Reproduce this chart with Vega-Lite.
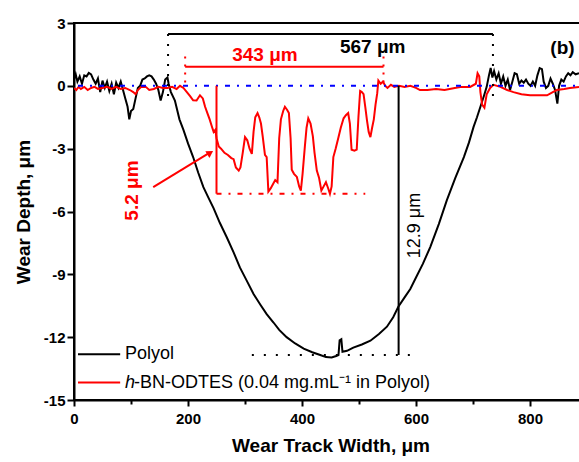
{
  "$schema": "https://vega.github.io/schema/vega-lite/v6.json",
  "width": 513,
  "height": 377,
  "autosize": "none",
  "padding": {"left": 74, "top": 23, "right": 0, "bottom": 62},
  "background": "white",
  "config": {
    "view": {"stroke": "black", "strokeWidth": 2},
    "font": "Liberation Sans",
    "axis": {
      "domainColor": "black", "domainWidth": 2,
      "tickColor": "black", "tickWidth": 2,
      "labelColor": "black", "labelFont": "Liberation Sans", "labelFontWeight": "bold", "labelFontSize": 15,
      "titleColor": "black", "titleFont": "Liberation Sans", "titleFontWeight": "bold", "titleFontSize": 19,
      "grid": false
    }
  },
  "datasets": {
    "polyol": [
      {"x":0,"y":0.3},{"x":3,"y":0.55},{"x":6,"y":0.2},{"x":10,"y":0.45},{"x":14,"y":0.1},{"x":18,"y":0.5},{"x":22,"y":0.45},{"x":26,"y":0.62},{"x":30,"y":0.55},{"x":34,"y":0.3},{"x":38,"y":0.1},{"x":42,"y":0.35},{"x":46,"y":-0.3},{"x":50,"y":0.25},{"x":54,"y":-0.1},{"x":58,"y":0.2},{"x":62,"y":-0.25},{"x":66,"y":0.1},{"x":70,"y":-0.4},{"x":74,"y":0.15},{"x":78,"y":-0.1},{"x":82,"y":0.2},{"x":86,"y":-0.2},{"x":90,"y":-0.6},{"x":94,"y":-1.0},{"x":97,"y":-1.6},{"x":100,"y":-1.2},{"x":104,"y":-1.1},{"x":108,"y":-0.6},{"x":112,"y":-0.1},{"x":116,"y":0.0},{"x":120,"y":0.3},{"x":124,"y":0.35},{"x":128,"y":0.45},{"x":132,"y":0.5},{"x":136,"y":0.45},{"x":140,"y":0.3},{"x":144,"y":0.1},{"x":148,"y":-0.2},{"x":152,"y":-0.7},{"x":156,"y":-0.3},{"x":160,"y":0.3},{"x":164,"y":0.4},{"x":166,"y":0.1},
      {"x":170,"y":-0.3},{"x":177,"y":-0.7},{"x":185,"y":-1.6},{"x":192,"y":-2.1},{"x":200,"y":-2.75},{"x":209,"y":-3.4},{"x":218,"y":-4.15},{"x":227,"y":-4.84},{"x":236,"y":-5.35},{"x":245,"y":-5.85},{"x":256,"y":-6.55},{"x":268,"y":-7.23},{"x":280,"y":-7.95},{"x":291,"y":-8.67},{"x":303,"y":-9.3},{"x":315,"y":-9.94},{"x":327,"y":-10.45},{"x":338,"y":-10.9},{"x":350,"y":-11.3},{"x":360,"y":-11.65},{"x":373,"y":-12.0},{"x":388,"y":-12.3},{"x":403,"y":-12.55},{"x":418,"y":-12.72},{"x":432,"y":-12.85},{"x":442,"y":-12.95},{"x":452,"y":-12.97},{"x":460,"y":-12.9},{"x":464,"y":-12.85},{"x":466,"y":-12.15},{"x":469,"y":-12.1},{"x":471,"y":-12.7},{"x":479,"y":-12.65},{"x":490,"y":-12.5},{"x":505,"y":-12.35},{"x":520,"y":-12.17},{"x":535,"y":-11.85},{"x":549,"y":-11.5},{"x":560,"y":-11.05},{"x":569,"y":-10.55},{"x":580,"y":-10.1},{"x":590,"y":-9.7},{"x":600,"y":-9.15},{"x":612,"y":-8.5},{"x":625,"y":-7.7},{"x":640,"y":-6.6},{"x":654,"y":-5.47},{"x":669,"y":-4.4},{"x":684,"y":-3.4},{"x":693,"y":-2.7},{"x":701,"y":-1.96},{"x":707,"y":-1.5},{"x":713,"y":-1.0},{"x":719,"y":-0.5},{"x":724,"y":-0.05},{"x":728,"y":0.5},{"x":731,"y":0.85},{"x":734,"y":0.4},
      {"x":737,"y":0.7},{"x":741,"y":0.3},{"x":745,"y":0.6},{"x":749,"y":0.1},{"x":753,"y":0.45},{"x":757,"y":0.0},{"x":761,"y":0.3},{"x":765,"y":-0.2},{"x":769,"y":0.2},{"x":773,"y":0.6},{"x":777,"y":0.55},{"x":781,"y":0.1},{"x":785,"y":0.25},{"x":789,"y":0.15},{"x":793,"y":0.3},{"x":797,"y":0.1},{"x":801,"y":0.0},{"x":805,"y":0.2},{"x":809,"y":0.0},{"x":813,"y":0.5},{"x":817,"y":0.85},{"x":821,"y":0.8},{"x":824,"y":0.2},{"x":828,"y":-0.1},{"x":832,"y":0.0},{"x":836,"y":0.35},{"x":840,"y":0.1},{"x":844,"y":-0.2},{"x":848,"y":-0.85},{"x":851,"y":0.0},{"x":855,"y":0.3},{"x":859,"y":0.2},{"x":863,"y":0.45},{"x":867,"y":0.6},{"x":871,"y":0.5},{"x":875,"y":0.65},{"x":880,"y":0.55},{"x":886,"y":0.6}
    ],
    "hbn": [
      {"x":0,"y":-0.1},{"x":4,"y":-0.2},{"x":8,"y":-0.05},{"x":12,"y":-0.15},{"x":18,"y":-0.05},{"x":24,"y":-0.2},{"x":30,"y":-0.1},{"x":36,"y":-0.05},{"x":42,"y":-0.15},{"x":50,"y":-0.1},{"x":58,"y":-0.05},{"x":66,"y":-0.15},{"x":74,"y":-0.05},{"x":82,"y":-0.15},{"x":90,"y":-0.1},{"x":98,"y":-0.2},{"x":104,"y":-0.3},{"x":108,"y":-0.4},{"x":112,"y":-0.2},{"x":118,"y":-0.05},{"x":126,"y":-0.05},{"x":132,"y":-0.2},{"x":140,"y":-0.15},{"x":148,"y":-0.05},{"x":156,"y":-0.1},{"x":164,"y":-0.1},{"x":172,"y":-0.05},{"x":180,"y":-0.15},{"x":186,"y":0.0},{"x":192,"y":-0.1},{"x":198,"y":-0.3},{"x":204,"y":-0.5},{"x":209,"y":-0.69},{"x":215,"y":-0.7},{"x":221,"y":-0.45},{"x":226,"y":-0.6},{"x":230,"y":-1.0},{"x":234,"y":-1.3},{"x":238,"y":-1.6},{"x":242,"y":-1.95},{"x":245,"y":-2.2},{"x":248,"y":-2.1},
      {"x":250,"y":-2.5},{"x":254,"y":-2.9},{"x":258,"y":-3.0},{"x":264,"y":-3.2},{"x":270,"y":-3.3},{"x":276,"y":-3.45},{"x":280,"y":-3.5},{"x":284,"y":-3.9},{"x":289,"y":-4.05},{"x":292,"y":-3.9},{"x":296,"y":-3.2},{"x":300,"y":-2.45},{"x":304,"y":-2.6},{"x":308,"y":-3.0},{"x":312,"y":-3.25},{"x":315,"y":-2.2},{"x":318,"y":-1.5},{"x":322,"y":-1.3},{"x":325,"y":-1.5},{"x":328,"y":-1.8},{"x":331,"y":-2.4},{"x":335,"y":-3.3},{"x":338,"y":-3.4},{"x":341,"y":-5.05},{"x":345,"y":-4.9},{"x":349,"y":-4.7},{"x":353,"y":-4.5},{"x":357,"y":-4.6},{"x":360,"y":-2.5},{"x":363,"y":-1.6},{"x":367,"y":-1.2},{"x":370,"y":-1.0},{"x":374,"y":-1.15},{"x":377,"y":-1.3},{"x":380,"y":-2.5},{"x":382,"y":-4.0},{"x":386,"y":-4.2},{"x":391,"y":-4.35},{"x":395,"y":-4.8},{"x":398,"y":-5.0},{"x":401,"y":-4.2},{"x":405,"y":-2.9},{"x":408,"y":-2.0},{"x":411,"y":-1.55},{"x":415,"y":-1.8},{"x":419,"y":-2.4},{"x":422,"y":-3.2},{"x":426,"y":-4.05},{"x":430,"y":-4.4},{"x":434,"y":-5.0},{"x":438,"y":-4.8},{"x":442,"y":-4.6},{"x":446,"y":-4.9},{"x":449,"y":-5.15},{"x":452,"y":-4.8},{"x":455,"y":-3.4},{"x":459,"y":-3.0},{"x":464,"y":-2.45},{"x":468,"y":-2.0},{"x":473,"y":-1.55},{"x":477,"y":-1.4},{"x":481,"y":-1.3},{"x":484,"y":-1.8},{"x":487,"y":-3.05},{"x":492,"y":-3.1},{"x":496,"y":-3.05},{"x":499,"y":-1.5},{"x":502,"y":-0.25},{"x":505,"y":-0.3},{"x":508,"y":-0.4},{"x":511,"y":-1.0},{"x":514,"y":-1.65},{"x":517,"y":-2.2},{"x":520,"y":-2.45},{"x":523,"y":-2.0},{"x":526,"y":-1.6},{"x":529,"y":-0.9},{"x":532,"y":-0.35},{"x":534,"y":0.25},{"x":538,"y":0.1},{"x":542,"y":0.2},{"x":546,"y":0.0},{"x":550,"y":-0.1},{"x":556,"y":0.05},{"x":562,"y":-0.05},{"x":570,"y":0.0},{"x":580,"y":-0.05},{"x":590,"y":0.0},{"x":600,"y":-0.1},{"x":607,"y":-0.2},{"x":620,"y":-0.2},{"x":635,"y":-0.15},{"x":650,"y":-0.2},{"x":668,"y":-0.1},{"x":680,"y":-0.05},{"x":695,"y":-0.05},{"x":705,"y":0.1},{"x":708,"y":0.6},{"x":711,"y":0.45},{"x":713,"y":-0.3},{"x":716,"y":-0.9},{"x":720,"y":-1.05},{"x":724,"y":-0.4},{"x":730,"y":-0.1},{"x":736,"y":0.05},{"x":748,"y":-0.05},{"x":760,"y":-0.2},{"x":771,"y":-0.3},{"x":785,"y":-0.4},{"x":800,"y":-0.45},{"x":815,"y":-0.45},{"x":830,"y":-0.45},{"x":840,"y":-0.3},{"x":847,"y":-0.2},{"x":860,"y":-0.15},{"x":870,"y":-0.1},{"x":886,"y":-0.05}
    ]
  },
  "layer": [
    {
      "data": {"name": "polyol"},
      "mark": {"type": "line", "color": "black", "strokeWidth": 2, "clip": true},
      "encoding": {
        "x": {"field": "x", "type": "quantitative",
          "scale": {"domain": [0, 900], "nice": false, "zero": false},
          "axis": {"title": "Wear Track Width, μm", "values": [0,100,200,300,400,500,600,700,800],
            "labelExpr": "datum.value % 200 === 0 ? '' + datum.value : ''",
            "tickSize": {"condition": {"test": "datum.value % 200 === 0", "value": 6}, "value": 4},
            "labelPadding": 5, "titlePadding": 10, "labelFlush": false}},
        "y": {"field": "y", "type": "quantitative",
          "scale": {"domain": [-15, 3], "nice": false, "zero": false},
          "axis": {"title": "Wear Depth, μm", "values": [-15,-13.5,-12,-10.5,-9,-7.5,-6,-4.5,-3,-1.5,0,1.5,3],
            "labelExpr": "datum.value % 3 === 0 ? '' + datum.value : ''",
            "tickSize": {"condition": {"test": "datum.value % 3 === 0", "value": 7}, "value": 4},
            "labelPadding": 2, "titlePadding": 10, "labelFlush": false}}
      }
    },
    {
      "data": {"name": "hbn"},
      "mark": {"type": "line", "color": "#ff0000", "strokeWidth": 2, "clip": true},
      "encoding": {
        "x": {"field": "x", "type": "quantitative"},
        "y": {"field": "y", "type": "quantitative"}
      }
    },
    {
      "data": {"values": [{"x": 7, "x2": 900, "y": 0}]},
      "mark": {"type": "rule", "color": "#0000ff", "strokeWidth": 2, "strokeDash": [5, 7, 2, 7], "clip": true},
      "encoding": {
        "x": {"field": "x", "type": "quantitative"}, "x2": {"field": "x2"},
        "y": {"field": "y", "type": "quantitative"}
      }
    },
    {
      "data": {"values": [{"x": 165, "x2": 735, "y": 2.47}]},
      "mark": {"type": "rule", "color": "black", "strokeWidth": 2},
      "encoding": {
        "x": {"field": "x", "type": "quantitative"}, "x2": {"field": "x2"},
        "y": {"field": "y", "type": "quantitative"}
      }
    },
    {
      "data": {"values": [{"x": 165, "y": 2.47, "y2": -0.85}, {"x": 735, "y": 2.47, "y2": -0.85}]},
      "mark": {"type": "rule", "color": "black", "strokeWidth": 2, "strokeDash": [2, 8]},
      "encoding": {
        "x": {"field": "x", "type": "quantitative"},
        "y": {"field": "y", "type": "quantitative"}, "y2": {"field": "y2"}
      }
    },
    {
      "data": {"values": [{"x": 195, "x2": 543, "y": 0.91}]},
      "mark": {"type": "rule", "color": "#ff0000", "strokeWidth": 2},
      "encoding": {
        "x": {"field": "x", "type": "quantitative"}, "x2": {"field": "x2"},
        "y": {"field": "y", "type": "quantitative"}
      }
    },
    {
      "data": {"values": [{"x": 195, "y": 1.4, "y2": 0.05}, {"x": 543, "y": 1.4, "y2": 0.05}]},
      "mark": {"type": "rule", "color": "#ff0000", "strokeWidth": 2, "strokeDash": [2, 6]},
      "encoding": {
        "x": {"field": "x", "type": "quantitative"},
        "y": {"field": "y", "type": "quantitative"}, "y2": {"field": "y2"}
      }
    },
    {
      "data": {"values": [{"x": 250, "y": 0, "y2": -5.15}]},
      "mark": {"type": "rule", "color": "#ff0000", "strokeWidth": 2},
      "encoding": {
        "x": {"field": "x", "type": "quantitative"},
        "y": {"field": "y", "type": "quantitative"}, "y2": {"field": "y2"}
      }
    },
    {
      "data": {"values": [{"x": 250, "x2": 511, "y": -5.15}]},
      "mark": {"type": "rule", "color": "#ff0000", "strokeWidth": 2, "strokeDash": [5, 7, 2, 7]},
      "encoding": {
        "x": {"field": "x", "type": "quantitative"}, "x2": {"field": "x2"},
        "y": {"field": "y", "type": "quantitative"}
      }
    },
    {
      "data": {"values": [{"x": 569.5, "y": 0, "y2": -12.85}]},
      "mark": {"type": "rule", "color": "black", "strokeWidth": 2},
      "encoding": {
        "x": {"field": "x", "type": "quantitative"},
        "y": {"field": "y", "type": "quantitative"}, "y2": {"field": "y2"}
      }
    },
    {
      "data": {"values": [{"x": 312, "x2": 590, "y": -12.85}]},
      "mark": {"type": "rule", "color": "black", "strokeWidth": 2, "strokeDash": [2, 10]},
      "encoding": {
        "x": {"field": "x", "type": "quantitative"}, "x2": {"field": "x2"},
        "y": {"field": "y", "type": "quantitative"}
      }
    },
    {
      "data": {"values": [{"x": 139, "x2": 236, "y": -4.84, "y2": -3.22}]},
      "mark": {"type": "rule", "color": "#ff0000", "strokeWidth": 2},
      "encoding": {
        "x": {"field": "x", "type": "quantitative"}, "x2": {"field": "x2"},
        "y": {"field": "y", "type": "quantitative"}, "y2": {"field": "y2"}
      }
    },
    {
      "data": {"values": [{"x": 239, "y": -3.2}]},
      "mark": {"type": "point", "shape": "triangle-up", "filled": true, "color": "#ff0000", "size": 60, "angle": 58, "opacity": 1},
      "encoding": {
        "x": {"field": "x", "type": "quantitative"},
        "y": {"field": "y", "type": "quantitative"}
      }
    },
    {
      "data": {"values": [{"x": 524, "y": 1.87, "label": "567 μm"}, {"x": 857, "y": 1.83, "label": "(b)"}]},
      "mark": {"type": "text", "color": "black", "fontSize": 19, "fontWeight": "bold", "font": "Liberation Sans", "align": "center", "baseline": "middle"},
      "encoding": {
        "x": {"field": "x", "type": "quantitative"},
        "y": {"field": "y", "type": "quantitative"},
        "text": {"field": "label"}
      }
    },
    {
      "data": {"values": [{"x": 335, "y": 1.47, "label": "343 μm"}]},
      "mark": {"type": "text", "color": "#ff0000", "fontSize": 19, "fontWeight": "bold", "font": "Liberation Sans", "align": "center", "baseline": "middle"},
      "encoding": {
        "x": {"field": "x", "type": "quantitative"},
        "y": {"field": "y", "type": "quantitative"},
        "text": {"field": "label"}
      }
    },
    {
      "data": {"values": [{"x": 101, "y": -5.0, "label": "5.2 μm"}]},
      "mark": {"type": "text", "color": "#ff0000", "fontSize": 19, "fontWeight": "bold", "font": "Liberation Sans", "align": "center", "baseline": "middle", "angle": 270},
      "encoding": {
        "x": {"field": "x", "type": "quantitative"},
        "y": {"field": "y", "type": "quantitative"},
        "text": {"field": "label"}
      }
    },
    {
      "data": {"values": [{"x": 599, "y": -6.67, "label": "12.9 μm"}]},
      "mark": {"type": "text", "color": "black", "fontSize": 18, "font": "Liberation Sans", "align": "center", "baseline": "middle", "angle": 270},
      "encoding": {
        "x": {"field": "x", "type": "quantitative"},
        "y": {"field": "y", "type": "quantitative"},
        "text": {"field": "label"}
      }
    },
    {
      "data": {"values": [{"series": "Polyol", "x": 7, "x2": 81, "y": -12.81}, {"series": "h-BN-ODTES", "x": 7, "x2": 81, "y": -14.17}]},
      "mark": {"type": "rule", "strokeWidth": 2},
      "encoding": {
        "x": {"field": "x", "type": "quantitative"}, "x2": {"field": "x2"},
        "y": {"field": "y", "type": "quantitative"},
        "color": {"field": "series", "type": "nominal", "scale": {"domain": ["Polyol", "h-BN-ODTES"], "range": ["#000000", "#ff0000"]}, "legend": null}
      }
    },
    {
      "data": {"values": [{"x": 89.5, "y": -12.81, "label": "Polyol"}, {"x": 105.3, "y": -14.17, "label": "-BN-ODTES (0.04 mg.mL⁻¹ in Polyol)"}]},
      "mark": {"type": "text", "color": "black", "fontSize": 18, "font": "Liberation Sans", "align": "left", "baseline": "middle"},
      "encoding": {
        "x": {"field": "x", "type": "quantitative"},
        "y": {"field": "y", "type": "quantitative"},
        "text": {"field": "label"}
      }
    },
    {
      "data": {"values": [{"x": 89.5, "y": -14.17, "label": "h"}]},
      "mark": {"type": "text", "color": "black", "fontSize": 18, "fontStyle": "italic", "font": "Liberation Sans", "align": "left", "baseline": "middle"},
      "encoding": {
        "x": {"field": "x", "type": "quantitative"},
        "y": {"field": "y", "type": "quantitative"},
        "text": {"field": "label"}
      }
    }
  ]
}
